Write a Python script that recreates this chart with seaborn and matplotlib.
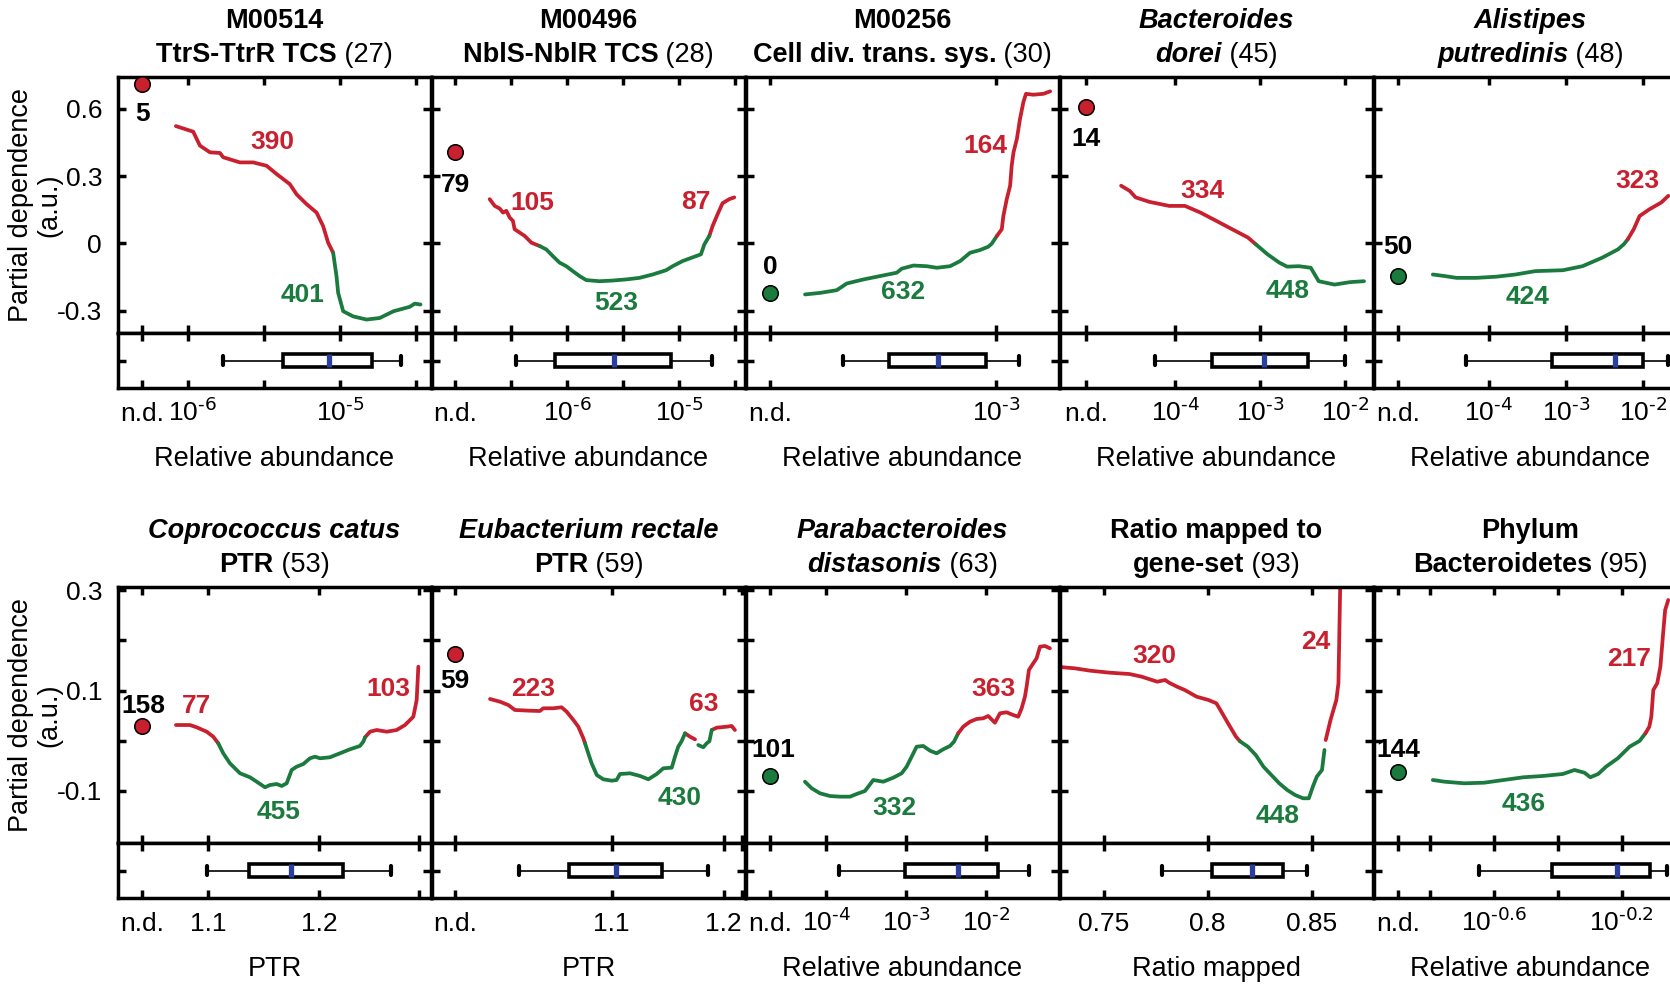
import numpy as np
import pandas as pd
import matplotlib
matplotlib.use("Agg")
import matplotlib.pyplot as plt
import matplotlib.transforms as mtransforms
import seaborn as sns

sns.set_style("ticks", rc={
    "axes.edgecolor": "black", "xtick.color": "black", "ytick.color": "black",
    "text.color": "black", "axes.labelcolor": "black",
    "xtick.direction": "in", "ytick.direction": "in",
})
plt.rcParams["font.family"] = ["Liberation Sans", "DejaVu Sans"]
plt.rcParams["mathtext.default"] = "regular"
plt.rcParams["axes.linewidth"] = 2.5

RED = "#c8202f"
GREEN = "#1b7a3e"
BLUE = "#2b3f9e"

# ------------------------------------------------------------------ data
# x: log10 relative abundance / PTR / ratio; y: partial dependence (a.u.)
m00514_x = [-6.079, -5.965, -5.921, -5.855, -5.789, -5.768, -5.658, -5.570, -5.482, -5.416,
            -5.329, -5.285, -5.219, -5.153, -5.110, -5.077, -5.044, -5.022, -5.011, -4.978,
            -4.912, -4.824, -4.737, -4.647, -4.539, -4.507, -4.469]
m00514_y = [0.523, 0.498, 0.436, 0.406, 0.403, 0.384, 0.361, 0.361, 0.346, 0.309,
            0.264, 0.219, 0.175, 0.137, 0.077, 0.003, -0.042, -0.146, -0.221, -0.303,
            -0.326, -0.340, -0.333, -0.303, -0.283, -0.269, -0.273]
m00514_nd = 0.712
m00514_box = [-5.768, -5.377, -5.070, -4.788, -4.599]
m00514_counts = [5, 390, 401]

m00496_x = [-6.694, -6.649, -6.604, -6.575, -6.545, -6.515, -6.486, -6.471, -6.426, -6.381,
            -6.321, -6.247, -6.188, -6.129, -6.069, -6.009, -5.950, -5.890, -5.830, -5.712,
            -5.593, -5.473, -5.354, -5.236, -5.116, -5.057, -4.968, -4.848, -4.804, -4.774,
            -4.729, -4.700, -4.655, -4.611, -4.551, -4.506]
m00496_y = [0.197, 0.167, 0.155, 0.137, 0.145, 0.115, 0.100, 0.063, 0.048, 0.033,
            0.003, -0.012, -0.027, -0.057, -0.086, -0.102, -0.124, -0.146, -0.164, -0.169,
            -0.166, -0.161, -0.154, -0.139, -0.120, -0.102, -0.079, -0.057, -0.049, -0.005,
            0.033, 0.077, 0.130, 0.179, 0.197, 0.205]
m00496_nd = 0.407
m00496_box = [-6.462, -6.113, -5.578, -5.071, -4.709]
m00496_counts = [79, 105, 87, 523]

m00256_x = [-3.735, -3.677, -3.613, -3.574, -3.510, -3.446, -3.382, -3.363, -3.318, -3.267,
            -3.228, -3.177, -3.138, -3.100, -3.062, -3.030, -3.017, -2.997, -2.978, -2.972,
            -2.959, -2.946, -2.940, -2.933, -2.920, -2.908, -2.895, -2.885, -2.857, -2.818,
            -2.792]
m00256_y = [-0.228, -0.221, -0.209, -0.179, -0.161, -0.146, -0.131, -0.113, -0.099, -0.102,
            -0.109, -0.102, -0.079, -0.042, -0.030, -0.015, -0.002, 0.033, 0.063, 0.122,
            0.197, 0.257, 0.346, 0.406, 0.466, 0.555, 0.630, 0.667, 0.663, 0.667,
            0.678]
m00256_nd = -0.222
m00256_box = [-3.590, -3.412, -3.222, -3.038, -2.910]
m00256_counts = [0, 164, 632]

dorei_x = [-4.639, -4.538, -4.468, -4.306, -4.074, -3.888, -3.704, -3.518, -3.333, -3.147,
           -3.055, -2.916, -2.778, -2.685, -2.546, -2.407, -2.314, -2.128, -1.944, -1.781]
dorei_y = [0.257, 0.234, 0.205, 0.185, 0.167, 0.167, 0.137, 0.100, 0.063, 0.026,
           -0.004, -0.049, -0.086, -0.104, -0.102, -0.109, -0.169, -0.184, -0.173, -0.169]
dorei_nd = 0.608
dorei_box = [-4.236, -3.565, -2.962, -2.439, -1.999]
dorei_counts = [14, 334, 448]

putredinis_x = [-4.720, -4.567, -4.415, -4.160, -3.906, -3.651, -3.397, -3.041, -2.787, -2.532,
                -2.329, -2.253, -2.202, -2.125, -2.049, -1.922, -1.770, -1.678]
putredinis_y = [-0.139, -0.146, -0.154, -0.154, -0.149, -0.139, -0.124, -0.120, -0.102, -0.064,
                -0.027, -0.004, 0.018, 0.063, 0.122, 0.152, 0.182, 0.212]
putredinis_nd = -0.144
putredinis_box = [-4.287, -3.183, -2.370, -2.009, -1.686]
putredinis_counts = [50, 323, 424]

catus_x = [1.0709, 1.0835, 1.0895, 1.0986, 1.1045, 1.1090, 1.1135, 1.1195, 1.1286, 1.1376,
           1.1436, 1.1511, 1.1556, 1.1616, 1.1661, 1.1706, 1.1751, 1.1796, 1.1856, 1.1916,
           1.1962, 1.2006, 1.2096, 1.2186, 1.2276, 1.2366, 1.2396, 1.2412, 1.2457, 1.2517,
           1.2607, 1.2697, 1.2772, 1.2847, 1.2877, 1.2892]
catus_y = [0.0313, 0.0313, 0.0268, 0.0180, 0.0081, -0.0051, -0.0250, -0.0449, -0.0648, -0.0727,
           -0.0815, -0.0926, -0.0881, -0.0861, -0.0900, -0.0847, -0.0582, -0.0516, -0.0463, -0.0349,
           -0.0317, -0.0349, -0.0329, -0.0250, -0.0170, -0.0104, -0.0019, 0.0069, 0.0180, 0.0214,
           0.0180, 0.0214, 0.0313, 0.0479, 0.0811, 0.1474]
catus_nd = 0.0294
catus_box = [1.0986, 1.1369, 1.1745, 1.2216, 1.2643]
catus_counts = [158, 77, 103, 455]

rectale_x = [0.9914, 1.0003, 1.0077, 1.0136, 1.0271, 1.0359, 1.0389, 1.0479, 1.0553, 1.0598,
             1.0658, 1.0702, 1.0747, 1.0762, 1.0791, 1.0821, 1.0867, 1.0925, 1.1000, 1.1044,
             1.1074, 1.1164, 1.1253, 1.1327, 1.1402, 1.1461, 1.1536, 1.1565, 1.1594, 1.1624,
             1.1655, 1.1699, 1.1744, np.nan, 1.1773, 1.1818, 1.1848, 1.1872, 1.1893, 1.1938,
             1.2027, 1.2071, 1.2100]
rectale_y = [0.0831, 0.0777, 0.0711, 0.0612, 0.0598, 0.0592, 0.0646, 0.0646, 0.0666, 0.0578,
             0.0413, 0.0280, 0.0049, -0.0051, -0.0250, -0.0449, -0.0682, -0.0767, -0.0795, -0.0781,
             -0.0662, -0.0648, -0.0701, -0.0767, -0.0662, -0.0548, -0.0536, -0.0317, -0.0118, -0.0010,
             0.0148, 0.0081, 0.0028, np.nan, -0.0085, -0.0130, -0.0051, -0.0010, 0.0214, 0.0260,
             0.0280, 0.0294, 0.0214]
rectale_nd = 0.1726
rectale_box = [1.0172, 1.0619, 1.1038, 1.1447, 1.1862]
rectale_counts = [59, 223, 63, 430]

distasonis_x = [-4.269, -4.185, -4.081, -3.956, -3.831, -3.706, -3.623, -3.519, -3.478, -3.415,
                -3.290, -3.165, -3.060, -2.998, -2.935, -2.873, -2.790, -2.706, -2.623, -2.540,
                -2.456, -2.406, -2.353, -2.290, -2.206, -2.123, -2.040, -1.978, -1.894, -1.831,
                -1.748, -1.665, -1.603, -1.560, -1.519, -1.498, -1.469, -1.415, -1.373, -1.331,
                -1.269, -1.206]
distasonis_y = [-0.0815, -0.0946, -0.1046, -0.1100, -0.1113, -0.1113, -0.1060, -0.1000, -0.0915, -0.0781,
                -0.0815, -0.0735, -0.0648, -0.0516, -0.0317, -0.0118, -0.0104, -0.0198, -0.0250, -0.0170,
                -0.0104, -0.0019, 0.0148, 0.0280, 0.0379, 0.0433, 0.0447, 0.0493, 0.0359, 0.0546,
                0.0566, 0.0512, 0.0479, 0.0646, 0.0877, 0.1076, 0.1408, 0.1541, 0.1641, 0.1872,
                0.1886, 0.1840]
distasonis_nd = -0.0701
distasonis_box = [-3.840, -3.019, -2.352, -1.860, -1.465]
distasonis_counts = [101, 363, 332]

ratio_x = [0.7294, 0.7304, 0.7361, 0.7437, 0.7531, 0.7625, 0.7683, 0.7758, 0.7796, 0.7815,
           0.7853, 0.7890, 0.7947, 0.8004, 0.8042, 0.8061, 0.8098, 0.8136, 0.8155, 0.8193,
           0.8231, 0.8268, 0.8306, 0.8344, 0.8382, 0.8420, 0.8458, 0.8486, 0.8505, 0.8524,
           0.8549, 0.8561, np.nan, 0.8567, 0.8590, 0.8618, 0.8628, 0.8637]
ratio_y = [0.1474, 0.1462, 0.1442, 0.1394, 0.1354, 0.1328, 0.1275, 0.1175, 0.1209, 0.1155,
           0.1076, 0.1010, 0.0877, 0.0811, 0.0745, 0.0612, 0.0347, 0.0081, -0.0010, -0.0118,
           -0.0284, -0.0516, -0.0682, -0.0847, -0.0980, -0.1080, -0.1145, -0.1145, -0.0915, -0.0716,
           -0.0582, -0.0184, np.nan, 0.0015, 0.0413, 0.0811, 0.1143, 0.3200]
ratio_nd = None
ratio_box = [0.7781, 0.8023, 0.8212, 0.8363, 0.8476]
ratio_counts = [None, 320, 24, 448]

bacteroidetes_x = [-0.7909, -0.7540, -0.6923, -0.6307, -0.5690, -0.5077, -0.4460, -0.3843, -0.3474, -0.3164,
                   -0.2980, -0.2735, -0.2488, -0.2119, -0.1750, -0.1440, -0.1255, -0.1133, -0.1070, -0.1008,
                   -0.0886, -0.0787, -0.0701, -0.0638, -0.0541]
bacteroidetes_y = [-0.0781, -0.0815, -0.0847, -0.0835, -0.0781, -0.0727, -0.0701, -0.0662, -0.0582, -0.0636,
                   -0.0727, -0.0662, -0.0516, -0.0349, -0.0118, -0.0005, 0.0148, 0.0280, 0.0479, 0.1010,
                   0.1143, 0.1474, 0.2138, 0.2602, 0.2801]
bacteroidetes_nd = -0.0616
bacteroidetes_box = [-0.6454, -0.4188, -0.2156, -0.1108, -0.0576]
bacteroidetes_counts = [144, 217, 436]

# ------------------------------------------------------------------ layout
BI = ("bold", "italic")
B = ("bold", "normal")
R = ("normal", "normal")


def e(p):
    # power-of-ten label with a plain hyphen in the exponent
    return "10$^{\\text{" + p + "}}$"


PANELS = [
    dict(x=m00514_x, y=m00514_y, nd=m00514_nd, box=m00514_box, counts=m00514_counts,
         title=[[("M00514", B)], [("TtrS-TtrR TCS", B), (" (27)", R)]],
         nd_pos=-6.3, xlim=(-6.46, -4.40),
         ticks=[-6.3, -6, -5.5, -5, -4.5], labels=["n.d.", e("-6"), "", e("-5"), ""],
         label_shift={1: 5},
         count_pos=[(-6.3, 0.587), (-5.441, 0.462), (-5.243, -0.221)],
         xlabel="Relative abundance"),
    dict(x=m00496_x, y=m00496_y, nd=m00496_nd, box=m00496_box, counts=m00496_counts,
         title=[[("M00496", B)], [("NblS-NblR TCS", B), (" (28)", R)]],
         nd_pos=-7.0, xlim=(-7.21, -4.41),
         ticks=[-7, -6.5, -6, -5.5, -5, -4.5], labels=["n.d.", "", e("-6"), "", e("-5"), ""],
         count_pos=[(-7.0, 0.270), (-6.312, 0.189), (-4.848, 0.194), (-5.563, -0.257)],
         xlabel="Relative abundance"),
    dict(x=m00256_x, y=m00256_y, nd=m00256_nd, box=m00256_box, counts=m00256_counts,
         title=[[("M00256", B)], [("Cell div. trans. sys.", B), (" (30)", R)]],
         nd_pos=-3.87, xlim=(-3.962, -2.758),
         ticks=[-3.87, -3], labels=["n.d.", e("-3")],
         count_pos=[(-3.87, -0.096), (-3.042, 0.447), (-3.357, -0.208)],
         xlabel="Relative abundance"),
    dict(x=dorei_x, y=dorei_y, nd=dorei_nd, box=dorei_box, counts=dorei_counts,
         title=[[("Bacteroides", BI)], [("dorei", BI), (" (45)", R)]],
         nd_pos=-5.05, xlim=(-5.358, -1.675),
         ticks=[-5.05, -4, -3, -2], labels=["n.d.", e("-4"), e("-3"), e("-2")],
         count_pos=[(-5.05, 0.476), (-3.680, 0.243), (-2.685, -0.200)],
         xlabel="Relative abundance"),
    dict(x=putredinis_x, y=putredinis_y, nd=putredinis_nd, box=putredinis_box, counts=putredinis_counts,
         title=[[("Alistipes", BI)], [("putredinis", BI), (" (48)", R)]],
         nd_pos=-5.17, xlim=(-5.480, -1.437),
         ticks=[-5.17, -4, -3, -2], labels=["n.d.", e("-4"), e("-3"), e("-2")],
         count_pos=[(-5.17, -0.007), (-2.075, 0.288), (-3.499, -0.230)],
         xlabel="Relative abundance"),
    dict(x=catus_x, y=catus_y, nd=catus_nd, box=catus_box, counts=catus_counts,
         title=[[("Coprococcus catus", BI)], [("PTR", B), (" (53)", R)]],
         nd_pos=1.04, xlim=(1.0187, 1.3006),
         ticks=[1.04, 1.1, 1.2, 1.29], labels=["n.d.", "1.1", "1.2", ""],
         count_pos=[(1.042, 0.0731), (1.0895, 0.0731), (1.2622, 0.1076), (1.1631, -0.1378)],
         xlabel="PTR"),
    dict(x=rectale_x, y=rectale_y, nd=rectale_nd, box=rectale_box, counts=rectale_counts,
         title=[[("Eubacterium rectale", BI)], [("PTR", B), (" (59)", R)]],
         nd_pos=0.96, xlim=(0.9396, 1.2190),
         ticks=[0.96, 1.1, 1.2, 1.216], labels=["n.d.", "1.1", "1.2", ""],
         count_pos=[(0.96, 0.1229), (1.0300, 0.1076), (1.1818, 0.0777), (1.1609, -0.110)],
         xlabel="PTR"),
    dict(x=distasonis_x, y=distasonis_y, nd=distasonis_nd, box=distasonis_box, counts=distasonis_counts,
         title=[[("Parabacteroides", BI)], [("distasonis", BI), (" (63)", R)]],
         nd_pos=-4.7, xlim=(-5.006, -1.093),
         ticks=[-4.7, -4, -3, -2], labels=["n.d.", e("-4"), e("-3"), e("-2")],
         count_pos=[(-4.66, -0.013), (-1.915, 0.1076), (-3.156, -0.1299)],
         xlabel="Relative abundance"),
    dict(x=ratio_x, y=ratio_y, nd=ratio_nd, box=ratio_box, counts=ratio_counts,
         title=[[("Ratio mapped to", B)], [("gene-set", B), (" (93)", R)]],
         nd_pos=None, xlim=(0.7291, 0.8794),
         ticks=[0.75, 0.8, 0.85], labels=["0.75", "0.8", "0.85"],
         count_pos=[None, (0.7743, 0.1726), (0.8518, 0.2019), (0.8335, -0.1444)],
         xlabel="Ratio mapped"),
    dict(x=bacteroidetes_x, y=bacteroidetes_y, nd=bacteroidetes_nd, box=bacteroidetes_box,
         counts=bacteroidetes_counts,
         title=[[("Phylum", B)], [("Bacteroidetes", B), (" (95)", R)]],
         nd_pos=-0.9, xlim=(-0.975, 0.0046),
         ticks=[-0.9, -0.8, -0.6, -0.4, -0.2, 0.0], labels=["n.d.", "", e("-0.6"), "", e("-0.2"), ""],
         count_pos=[(-0.9, -0.013), (-0.1775, 0.1673), (-0.5077, -0.1213)],
         xlabel="Relative abundance"),
]

ROWS = [
    dict(top=77, mid=333, bottom=388, ylim=(-0.40, 0.742),
         yticks=[0.6, 0.3, 0.0, -0.3], ylabels=["0.6", "0.3", "0", "-0.3"]),
    dict(top=587, mid=843, bottom=898, ylim=(-0.2035, 0.306),
         yticks=[0.3, 0.2, 0.1, 0.0, -0.1], ylabels=["0.3", "", "0.1", "", "-0.1"]),
]

FW, FH = 1670, 984
COL_LEFT, COL_STEP, COL_W = 118, 314, 313
FS = 19
SPINE = 2.5

fig = plt.figure(figsize=(FW / 100, FH / 100), dpi=100)
renderer = fig.canvas.get_renderer()


def frac_box(left, top, width, height):
    return [left / FW, 1 - (top + height) / FH, width / FW, height / FH]


def draw_curve(ax, xs, ys):
    """Split the curve into runs of equal sign; NaN marks a break."""
    rows, run, cur = [], 0, None
    for xv, yv in zip(xs, ys):
        if yv is None or np.isnan(yv):
            cur = None
            continue
        s = "up" if yv >= 0 else "down"
        if s != cur:
            if cur is not None:
                rows.append((xv, yv, run, cur))
            run += 1
            cur = s
        rows.append((xv, yv, run, s))
    df = pd.DataFrame(rows, columns=["x", "y", "run", "sign"])
    sns.lineplot(data=df, x="x", y="y", hue="sign", units="run", estimator=None, sort=False,
                 palette={"up": RED, "down": GREEN}, linewidth=2.7, legend=False, ax=ax)


def rich_line(xc_px, base_px, pieces, size=19.5):
    texts = []
    for s, (weight, style) in pieces:
        texts.append(fig.text(0, 1 - base_px / FH, s, fontsize=size, fontweight=weight,
                              fontstyle=style, ha="left", va="baseline"))
    widths = [t.get_window_extent(renderer).width for t in texts]
    x = xc_px - sum(widths) / 2
    for t, w in zip(texts, widths):
        t.set_x(x / FW)
        x += w


for i, p in enumerate(PANELS):
    r, c = divmod(i, 5)
    row = ROWS[r]
    left = COL_LEFT + c * COL_STEP
    ax = fig.add_axes(frac_box(left, row["top"], COL_W, row["mid"] - row["top"]))
    axb = fig.add_axes(frac_box(left, row["mid"], COL_W, row["bottom"] - row["mid"]), sharex=ax)

    draw_curve(ax, p["x"], p["y"])

    # not-detected point
    if p["nd"] is not None:
        sns.scatterplot(x=[p["nd_pos"]], y=[p["nd"]], color=RED if p["nd"] > 0 else GREEN,
                        s=125, edgecolor="black", linewidth=1.1, ax=ax, zorder=5, legend=False)

    # sample counts
    for k, (n, pos) in enumerate(zip(p["counts"], p["count_pos"])):
        if n is None:
            continue
        if k == 0:
            col = "black"
        else:
            col = RED if pos[1] > 0 else GREEN
        ax.annotate(str(n), xy=pos, xytext=(0, -6.8), textcoords="offset points",
                    ha="center", va="baseline", fontsize=FS, fontweight="bold", color=col)

    # distribution of the feature
    sns.boxplot(x=p["box"], ax=axb, width=0.22, whis=(0, 100), color="white", linecolor="black",
                linewidth=2.6, fliersize=0, capwidths=0.15,
                medianprops=dict(color=BLUE, linewidth=3.8),
                whiskerprops=dict(linewidth=1.2),
                capprops=dict(linewidth=3.0))

    ax.set_ylim(*row["ylim"])
    ax.set_yticks(row["yticks"])
    ax.set_yticklabels(row["ylabels"] if c == 0 else [""] * len(row["yticks"]))
    ax.set_xticks(p["ticks"])
    ax.set_xlim(*p["xlim"])
    ax.set_xlabel("")
    ax.set_ylabel("")
    ax.tick_params(axis="both", which="major", direction="in", length=6, width=SPINE,
                   top=True, right=True, bottom=True, left=True,
                   labelbottom=False, labelsize=FS, pad=11.5)

    axb.set_ylim(-0.5, 0.5)
    axb.set_yticks([0])
    axb.set_yticklabels([""])
    axb.set_xticks(p["ticks"])
    axb.set_xticklabels(p["labels"])
    axb.set_xlim(*p["xlim"])
    axb.set_ylabel("")
    axb.tick_params(axis="both", which="major", direction="in", length=6, width=SPINE,
                    top=True, right=True, bottom=True, left=True,
                    labelbottom=True, labelleft=False, labelsize=FS, pad=23.5)
    shifts = p.get("label_shift", {})
    for j, lab in enumerate(axb.get_xticklabels()):
        lab.set_va("baseline")
        if j in shifts:
            lab.set_transform(lab.get_transform() + mtransforms.ScaledTranslation(
                shifts[j] / 100, 0, fig.dpi_scale_trans))
    axb.set_xlabel(p["xlabel"], fontsize=19.5, va="baseline")
    axb.xaxis.set_label_coords(0.5, -1.42)

    for a in (ax, axb):
        for sp in a.spines.values():
            sp.set_linewidth(SPINE)
            sp.set_color("black")

    xc = left + COL_W / 2
    rich_line(xc, row["top"] - 48.5, p["title"][0])
    rich_line(xc, row["top"] - 15.5, p["title"][1])

# shared y-axis caption, one per row
for row in ROWS:
    yc = 1 - (row["top"] + row["mid"]) / 2 / FH
    fig.text(21 / FW, yc, "Partial dependence", rotation=90,
             ha="center", va="center", fontsize=19.5)
    fig.text(49 / FW, yc, "(a.u.)", rotation=90,
             ha="center", va="center", fontsize=19.5)

fig.savefig("out.png", dpi=100)
